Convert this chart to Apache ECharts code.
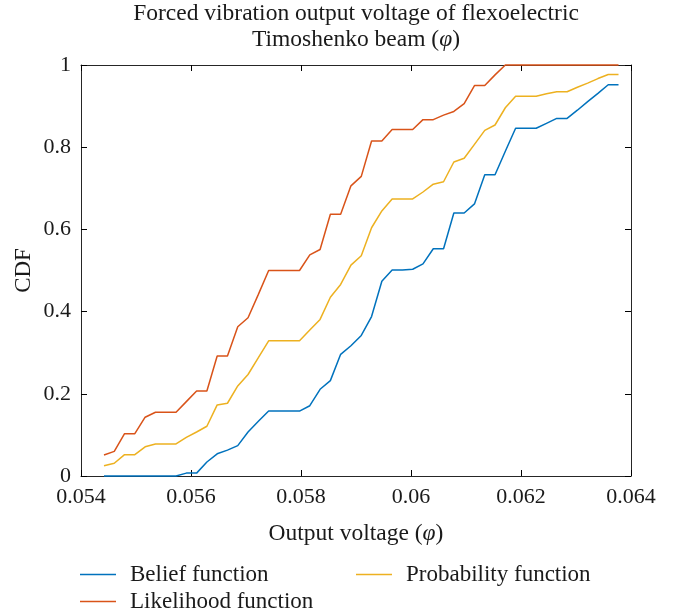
<!DOCTYPE html>
<html><head><meta charset="utf-8">
<script src="https://cdn.jsdelivr.net/npm/echarts@6.0.0/dist/echarts.min.js"></script>
<style>html,body{margin:0;padding:0;background:#fff}#c{width:686px;height:616px}</style>
</head><body><div id="c"></div>
<script>
const outputVoltage = [0.054418,0.054605,0.054792,0.054979,0.055166,0.055354,0.055541,0.055728,0.055915,0.056102,
0.056289,0.056476,0.056663,0.056850,0.057037,0.057225,0.057412,0.057599,0.057786,0.057973,
0.058160,0.058347,0.058534,0.058721,0.058908,0.059096,0.059283,0.059470,0.059657,0.059844,
0.060031,0.060218,0.060405,0.060592,0.060779,0.060967,0.061154,0.061341,0.061528,0.061715,
0.061902,0.062089,0.062276,0.062463,0.062650,0.062838,0.063025,0.063212,0.063399,0.063586,0.063773];
const beliefCDF = [0,0,0,0,0,0,0,0,0.007,0.007,
0.034,0.054,0.063,0.074,0.107,0.133,0.158,0.158,0.158,0.158,
0.171,0.211,0.232,0.296,0.317,0.342,0.388,0.474,0.501,0.501,
0.503,0.516,0.553,0.553,0.640,0.640,0.662,0.733,0.733,0.790,
0.846,0.846,0.846,0.858,0.870,0.870,0.890,0.911,0.931,0.952,0.952];
const probabilityCDF = [0.025,0.031,0.052,0.052,0.071,0.078,0.078,0.078,0.094,0.107,
0.121,0.173,0.177,0.219,0.247,0.288,0.329,0.329,0.329,0.329,
0.355,0.381,0.435,0.466,0.513,0.536,0.604,0.645,0.674,0.674,
0.674,0.691,0.710,0.716,0.764,0.773,0.807,0.841,0.854,0.896,
0.924,0.924,0.924,0.930,0.935,0.935,0.946,0.956,0.967,0.977,0.977];
const likelihoodCDF = [0.051,0.060,0.103,0.103,0.143,0.155,0.155,0.155,0.181,0.207,
0.207,0.292,0.292,0.363,0.385,0.442,0.500,0.500,0.500,0.500,
0.538,0.551,0.637,0.637,0.706,0.729,0.815,0.815,0.843,0.843,
0.843,0.867,0.867,0.878,0.887,0.906,0.950,0.950,0.976,1,
1,1,1,1,1,1,1,1,1,1,1];
const seriesNames = ['Belief function','Probability function','Likelihood function'];
const seriesColors = ['#0072BD','#EDB120','#D95319'];
const titleText = 'Forced vibration output voltage of flexoelectric\nTimoshenko beam ({i|φ})';
const xMin = 0.054, xMax = 0.064, xStep = 0.002;
const yMin = 0, yMax = 1, yStep = 0.2;

const FONT = 'Liberation Serif';
const TXT = '#1a1a1a';
const AX = '#262626';

function pairs(ys){ return outputVoltage.map((x,i)=>[x, ys[i]]); }

const chart = echarts.init(document.getElementById('c'), null, {renderer:'canvas'});
const italic = {i:{fontFamily:FONT, fontSize:23.5, fontStyle:'italic', color:TXT}};
const baseAxis = {
  axisLine:{show:true, onZero:false, lineStyle:{color:AX, width:1}},
  axisTick:{show:true, inside:true, length:6, lineStyle:{color:'#000', width:1}},
  splitLine:{show:false}
};
const legendText = {fontFamily:FONT, fontSize:23, color:TXT, padding:[0,0,0,9]};
chart.setOption({
  animation:false,
  backgroundColor:'#fff',
  graphic:[{
    type:'text', x:356, y:1, z:10,
    style:{text:titleText, align:'center', verticalAlign:'top', fontFamily:FONT, fontSize:23.5, fill:TXT, lineHeight:26,
      rich:{i:{fontFamily:FONT, fontSize:23.5, fontStyle:'italic', fill:TXT, lineHeight:26}}}
  }],
  grid:{left:81, right:55, top:65, bottom:140, containLabel:false},
  legend:[
    {data:[seriesNames[0]], left:80, top:563, padding:0, icon:'rect', itemWidth:36, itemHeight:1.5, textStyle:legendText},
    {data:[seriesNames[1]], left:356, top:563, padding:0, icon:'rect', itemWidth:36, itemHeight:1.5, textStyle:legendText},
    {data:[seriesNames[2]], left:80, top:590, padding:0, icon:'rect', itemWidth:36, itemHeight:1.5, textStyle:legendText}
  ],
  xAxis:[
    Object.assign({type:'value', position:'bottom', min:xMin, max:xMax, interval:xStep,
      name:'Output voltage ({i|φ})', nameLocation:'middle', nameGap:46, nameMoveOverlap:false,
      nameTextStyle:{fontFamily:FONT, fontSize:23.5, color:TXT, rich:italic},
      axisLabel:{margin:10, fontFamily:FONT, fontSize:22, color:TXT, formatter:v=>String(+(+v).toFixed(3))}}, baseAxis),
    Object.assign({type:'value', position:'top', min:xMin, max:xMax, interval:xStep, axisLabel:{show:false}}, baseAxis)
  ],
  yAxis:[
    Object.assign({type:'value', position:'left', min:yMin, max:yMax, interval:yStep,
      name:'CDF', nameLocation:'middle', nameGap:46, nameMoveOverlap:false,
      nameTextStyle:{fontFamily:FONT, fontSize:23, color:TXT},
      axisLabel:{margin:10, fontFamily:FONT, fontSize:22, color:TXT, formatter:v=>String(+(+v).toFixed(1))}}, baseAxis),
    Object.assign({type:'value', position:'right', min:yMin, max:yMax, interval:yStep, axisLabel:{show:false}}, baseAxis)
  ],
  series:[
    {name:seriesNames[0], type:'line', data:pairs(beliefCDF), showSymbol:false, symbol:'none', clip:false, color:seriesColors[0], lineStyle:{width:1.5, color:seriesColors[0]}, z:3},
    {name:seriesNames[1], type:'line', data:pairs(probabilityCDF), showSymbol:false, symbol:'none', clip:false, color:seriesColors[1], lineStyle:{width:1.5, color:seriesColors[1]}, z:3},
    {name:seriesNames[2], type:'line', data:pairs(likelihoodCDF), showSymbol:false, symbol:'none', clip:false, color:seriesColors[2], lineStyle:{width:1.5, color:seriesColors[2]}, z:4}
  ]
});
</script></body></html>
